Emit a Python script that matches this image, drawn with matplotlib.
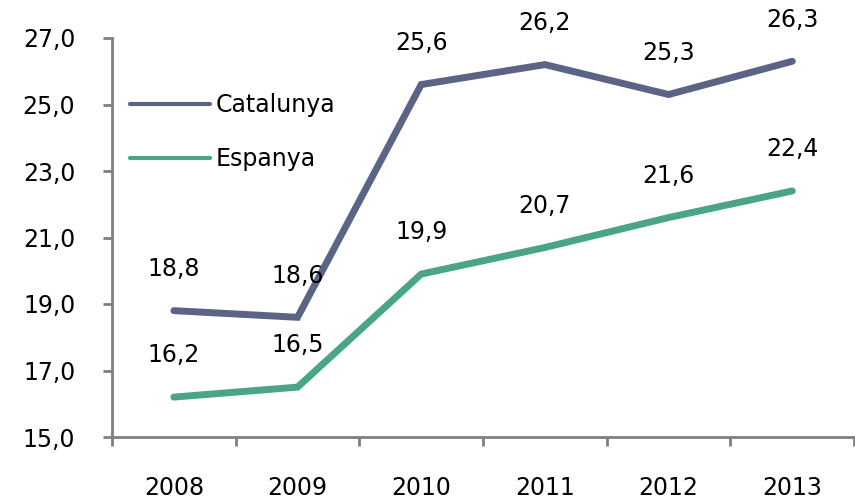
import matplotlib.pyplot as plt
from matplotlib.ticker import FixedLocator, FuncFormatter

years = ["2008", "2009", "2010", "2011", "2012", "2013"]
catalunya = [18.8, 18.6, 25.6, 26.2, 25.3, 26.3]
espanya = [16.2, 16.5, 19.9, 20.7, 21.6, 22.4]

plt.rcParams["font.family"] = ["DejaVu Sans"]
fs = 17

fig = plt.figure(figsize=(8.55, 5.0), dpi=100)
ax = fig.add_axes([0.131, 0.126, 0.868, 0.798])

x = list(range(len(years)))
ax.plot(x, catalunya, color="#5b6485", lw=5, label="Catalunya",
        solid_joinstyle="miter", solid_capstyle="round")
ax.plot(x, espanya, color="#4aa584", lw=5, label="Espanya",
        solid_joinstyle="miter", solid_capstyle="round")

def fmt(v):
    return f"{v:.1f}".replace(".", ",")

# etiquetes de dades sobre cada punt
for serie in (catalunya, espanya):
    for xi, v in zip(x, serie):
        ax.annotate(fmt(v), (xi, v), xytext=(0, 30), textcoords="offset points",
                    ha="center", va="center", fontsize=fs)

ax.set_xlim(-0.5, len(years) - 0.5)
ax.set_ylim(15, 27)
ax.set_yticks([15, 17, 19, 21, 23, 25, 27])
ax.yaxis.set_major_formatter(FuncFormatter(lambda v, p: fmt(v)))

# marques entre categories, etiquetes al centre
ax.xaxis.set_major_locator(FixedLocator([i - 0.5 for i in range(len(years) + 1)]))
ax.xaxis.set_major_formatter(FuncFormatter(lambda v, p: ""))
ax.set_xticks(x, minor=True)
ax.set_xticklabels(years, minor=True)
ax.tick_params(axis="x", which="minor", length=0, pad=28, labelsize=fs)
ax.tick_params(axis="x", which="major", length=6.5, width=2, color="#7f7f7f", direction="out")
ax.tick_params(axis="y", length=6.5, width=2, color="#7f7f7f", direction="out", labelsize=fs, pad=20)

for s in ["top", "right"]:
    ax.spines[s].set_visible(False)
for s in ["left", "bottom"]:
    ax.spines[s].set_color("#7f7f7f")
    ax.spines[s].set_linewidth(2)

leg = ax.legend(loc="upper left", bbox_to_anchor=(0.024, 0.862), frameon=False, fontsize=fs,
                borderpad=0, borderaxespad=0, handlelength=3.4, labelspacing=1.28, handletextpad=0.25)
for h in leg.get_lines():
    h.set_linewidth(3)

fig.savefig("out.png", dpi=100)
